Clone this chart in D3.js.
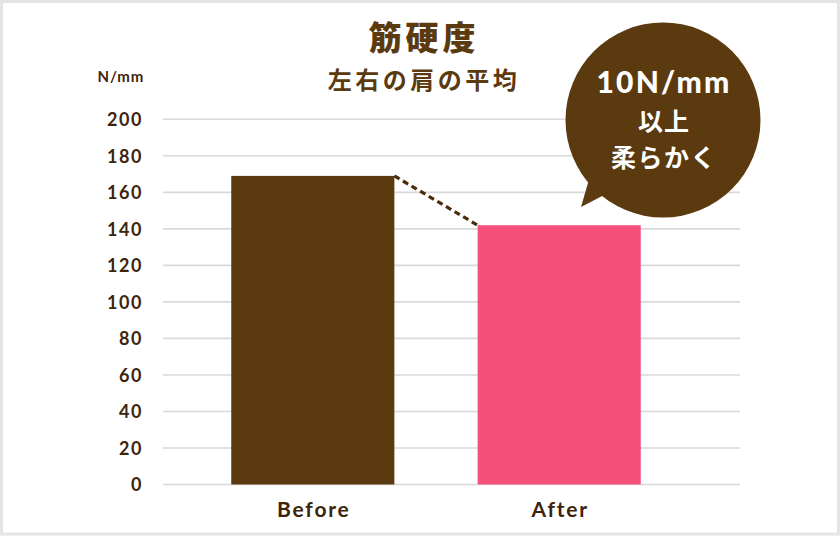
<!DOCTYPE html>
<html>
<head>
<meta charset="utf-8">
<script src="https://cdn.jsdelivr.net/npm/d3@7"></script>
<style>
  html,body{margin:0;padding:0;background:#fff;}
  svg{display:block;}
</style>
</head>
<body>
<svg id="chart" width="840" height="536"></svg>
<script>
/* ── data ── */
var categories=['Before','After'];
var values=[169,142];
var barColors=['#5b3a10','#f4507a'];
var yTicks=[0,20,40,60,80,100,120,140,160,180,200];
var titleText='筋硬度';
var subtitleText='左右の肩の平均';
var unitText='N/mm';
var bubbleLines=['10N/mm','以上','柔らかく'];

var W=840, H=536;
var BROWN='#5b3a10', TXT='#3e240a';
var LATIN='Lato, "Noto Sans", sans-serif';
var JP='"Noto Sans CJK JP", "Noto Sans", sans-serif';

var svg=d3.select('#chart');

/* frame */
svg.append('rect').attr('x',1.5).attr('y',1.5).attr('width',W-3).attr('height',H-3.5)
  .attr('fill','#fff').attr('stroke','#e4e4e4').attr('stroke-width',3);

var gridX0=163, gridX1=740;
var y=d3.scaleLinear().domain([0,200]).range([484.5,119.3]);
var x=d3.scaleBand().domain(categories).range([163,709]).paddingInner(0.338).paddingOuter(0.277);

/* gridlines */
svg.append('g').selectAll('line').data(yTicks).join('line')
  .attr('x1',gridX0).attr('x2',gridX1)
  .attr('y1',function(d){return y(d);}).attr('y2',function(d){return y(d);})
  .attr('stroke','#d9d9d9').attr('stroke-width',1.6);

/* y axis labels */
var yAxis=d3.axisLeft(y).tickValues(yTicks).tickSize(0).tickPadding(0);
var ya=svg.append('g').attr('transform','translate(143,0)').call(yAxis);
ya.select('.domain').remove();
ya.selectAll('text').attr('font-family',LATIN).attr('font-weight',700)
  .attr('font-size',18).attr('fill',TXT).attr('letter-spacing','1.6px').attr('dy','0.35em');

svg.append('text').attr('x',144).attr('y',82).attr('text-anchor','end')
  .attr('font-family',LATIN).attr('font-weight',700).attr('font-size',15)
  .attr('fill',TXT).attr('letter-spacing','0.8px').text(unitText);

/* bars */
svg.append('g').selectAll('rect').data(categories).join('rect')
  .attr('x',function(d){return x(d);})
  .attr('y',function(d,i){return y(values[i]);})
  .attr('width',x.bandwidth())
  .attr('height',function(d,i){return y(0)-y(values[i]);})
  .attr('fill',function(d,i){return barColors[i];});

/* dashed connector */
svg.append('line')
  .attr('x1',x(categories[0])+x.bandwidth()).attr('y1',y(values[0]))
  .attr('x2',x(categories[1])).attr('y2',y(values[1]))
  .attr('stroke','#4a2c0c').attr('stroke-width',3.2).attr('stroke-dasharray','6,4');

/* x labels */
svg.append('g').selectAll('text').data(categories).join('text')
  .attr('x',function(d){return x(d)+x.bandwidth()/2+1;}).attr('y',517)
  .attr('text-anchor','middle').attr('font-family',LATIN).attr('font-weight',700)
  .attr('font-size',21).attr('fill',TXT).attr('letter-spacing','1.8px')
  .text(function(d){return d;});

/* titles */
svg.append('text').attr('x',424).attr('y',50).attr('text-anchor','middle')
  .attr('font-family',JP).attr('font-weight',900).attr('font-size',33)
  .attr('letter-spacing','4px').attr('fill',BROWN).text(titleText);
svg.append('text').attr('x',424).attr('y',89).attr('text-anchor','middle')
  .attr('font-family',JP).attr('font-weight',700).attr('font-size',24)
  .attr('letter-spacing','3.5px').attr('fill',BROWN).text(subtitleText);

/* speech bubble */
var bx=663, by=120, br=97.5;
var bub=svg.append('g');
bub.append('path').attr('d','M590,176 L581,207 L606,194 Z').attr('fill',BROWN);
bub.append('circle').attr('cx',bx).attr('cy',by).attr('r',br).attr('fill',BROWN);
bub.append('text').attr('x',bx+1).attr('y',93).attr('text-anchor','middle')
  .attr('font-family',LATIN).attr('font-weight',900).attr('font-size',30)
  .attr('letter-spacing','2.2px').attr('fill','#fff').text(bubbleLines[0]);
bub.append('text').attr('x',bx+1).attr('y',131).attr('text-anchor','middle')
  .attr('font-family',JP).attr('font-weight',700).attr('font-size',25)
  .attr('letter-spacing','1px').attr('fill','#fff').text(bubbleLines[1]);
bub.append('text').attr('x',bx+1).attr('y',167).attr('text-anchor','middle')
  .attr('font-family',JP).attr('font-weight',700).attr('font-size',25)
  .attr('letter-spacing','1.5px').attr('fill','#fff').text(bubbleLines[2]);
</script>
</body>
</html>
